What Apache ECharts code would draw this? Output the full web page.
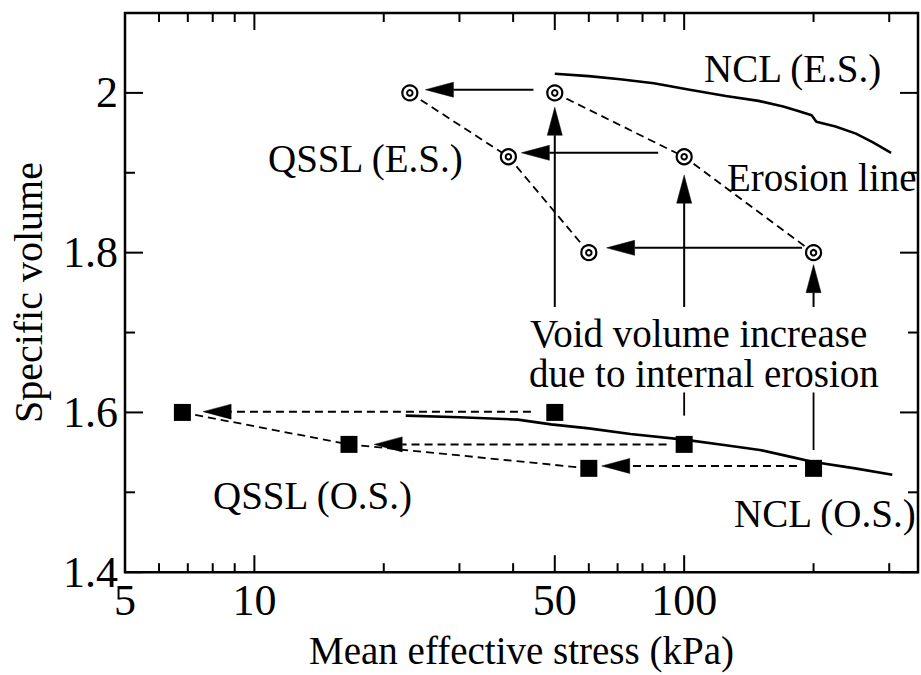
<!DOCTYPE html>
<html>
<head>
<meta charset="utf-8">
<script src="https://cdn.jsdelivr.net/npm/echarts@6/dist/echarts.min.js"></script>
<style>
html,body{margin:0;padding:0;background:#fff;}
#chart{width:921px;height:675px;}
</style>
</head>
<body>
<div id="chart"></div>
<script>
// ---------- axis ranges & ticks ----------
const xMin = 5, xMax = 350;
const yMin = 1.4, yMax = 2.1;
const xMajorTicks = [5, 10, 50, 100];
const xTickLabels = ['5', '10', '50', '100'];
const xMinorTicks = [6, 7, 8, 9, 20, 30, 40, 60, 70, 80, 90, 200, 300];
const yMajorTicks = [1.4, 1.6, 1.8, 2.0];
const yTickLabels = ['1.4', '1.6', '1.8', '2'];
const yMinorTicks = [1.5, 1.7, 1.9];

// ---------- E.S. (eroded soil) ----------
const esStartX = [50, 100, 200];
const esStartY = [2.00, 1.92, 1.80];
const esQsslX = [23, 39, 60];
const esQsslY = [2.00, 1.92, 1.80];
const nclEsX = [50, 60, 71, 85, 103, 125, 149, 170, 185, 198, 203, 225, 251, 275, 303];
const nclEsY = [2.024, 2.021, 2.017, 2.012, 2.004, 1.996, 1.990, 1.983, 1.977, 1.972, 1.964, 1.958, 1.949, 1.938, 1.925];

// ---------- O.S. (original soil) ----------
const osStartX = [50, 100, 200];
const osStartY = [1.60, 1.56, 1.53];
const osQsslX = [6.8, 16.6, 60];
const osQsslY = [1.60, 1.56, 1.53];
const nclOsX = [22.5, 30, 41, 49, 60, 75, 100, 125, 150, 175, 200, 250, 305];
const nclOsY = [1.596, 1.594, 1.591, 1.585, 1.580, 1.573, 1.566, 1.559, 1.553, 1.545, 1.538, 1.530, 1.522];

// ---------- arrows ----------
const esArrowFromX = [44.6, 87, 188];
const esArrowToX = [25, 41.8, 66];
const esArrowY = [2.004, 1.925, 1.806];
const osArrowFromX = [44, 91, 183];
const osArrowToX = [7.6, 19, 64.3];
const osArrowY = [1.601, 1.560, 1.533];
const riseX = [50, 100, 200];
const riseFromY = [1.732, 1.732, 1.732];
const riseToY = [1.982, 1.897, 1.785];
const stemX = [100, 200];
const stemFromY = [1.596, 1.553];
const stemToY = [1.625, 1.625];

// ---------- build ----------
const FONT = 'Liberation Serif';
const zip = (a, b) => a.map((v, i) => [v, b[i]]);

const arrowRows = [];
esArrowFromX.forEach((v, i) => arrowRows.push([v, esArrowY[i], esArrowToX[i], esArrowY[i], 1, 0]));
osArrowFromX.forEach((v, i) => arrowRows.push([v, osArrowY[i], osArrowToX[i], osArrowY[i], 1, 1]));
riseX.forEach((v, i) => arrowRows.push([v, riseFromY[i], v, riseToY[i], 1, 0]));
stemX.forEach((v, i) => arrowRows.push([v, stemFromY[i], v, stemToY[i], 0, 0]));

function arrowItem(params, api) {
  const p1 = api.coord([api.value(0), api.value(1)]);
  const p2 = api.coord([api.value(2), api.value(3)]);
  const hasHead = api.value(4) === 1;
  const dashed = api.value(5) === 1;
  const dx = p2[0] - p1[0], dy = p2[1] - p1[1];
  const L = Math.hypot(dx, dy) || 1;
  const ux = dx / L, uy = dy / L;
  const headLen = 28, headHalf = 7.5;
  const end = hasHead ? [p2[0] - ux * headLen, p2[1] - uy * headLen] : p2;
  const children = [{
    type: 'line',
    shape: { x1: p1[0], y1: p1[1], x2: end[0], y2: end[1] },
    style: { stroke: '#000', lineWidth: hasHead ? 2 : 1.8, lineDash: dashed ? [8, 5] : null, fill: null }
  }];
  if (hasHead) {
    children.push({
      type: 'polygon',
      shape: { points: [p2, [end[0] - uy * headHalf, end[1] + ux * headHalf], [end[0] + uy * headHalf, end[1] - ux * headHalf]] },
      style: { fill: '#000', stroke: '#000', lineWidth: 0.5 }
    });
  }
  return { type: 'group', children };
}

const xTickRows = xMajorTicks.map(v => [v, yMin, 1]).concat(xMinorTicks.map(v => [v, yMin, 0]));
const yTickRows = yMajorTicks.map(v => [xMin, v, 1]).concat(yMinorTicks.map(v => [xMin, v, 0]));

function xTickItem(params, api) {
  const x = api.value(0);
  const len = api.value(2) === 1 ? 17 : 9;
  const b = api.coord([x, yMin]);
  const t = api.coord([x, yMax]);
  const st = { stroke: '#000', lineWidth: 2 };
  return { type: 'group', children: [
    { type: 'line', shape: { x1: b[0], y1: b[1], x2: b[0], y2: b[1] - len }, style: st },
    { type: 'line', shape: { x1: t[0], y1: t[1], x2: t[0], y2: t[1] + len }, style: st }
  ]};
}
function yTickItem(params, api) {
  const y = api.value(1);
  const len = api.value(2) === 1 ? 18 : 10;
  const l = api.coord([xMin, y]);
  const r = api.coord([xMax, y]);
  const st = { stroke: '#000', lineWidth: 2 };
  return { type: 'group', children: [
    { type: 'line', shape: { x1: l[0], y1: l[1], x2: l[0] + len, y2: l[1] }, style: st },
    { type: 'line', shape: { x1: r[0], y1: r[1], x2: r[0] - len, y2: r[1] }, style: st }
  ]};
}
const xLabelRows = xMajorTicks.map((v, i) => [v, yMin, i]);
function xLabelItem(params, api) {
  const p = api.coord([api.value(0), yMin]);
  return {
    type: 'text',
    x: p[0], y: p[1] + 28.5,
    style: {
      text: xTickLabels[api.value(2)],
      fontSize: 44, fontFamily: FONT, fill: '#000',
      align: 'center', verticalAlign: 'middle',
      textAlign: 'center', textVerticalAlign: 'middle'
    }
  };
}

function txt(text, x, y) {
  return {
    type: 'text', x: x, y: y, z: 100,
    style: {
      text: text, fontSize: 39, fontFamily: FONT, fill: '#000',
      align: 'left', verticalAlign: 'middle',
      textAlign: 'left', textVerticalAlign: 'middle'
    }
  };
}

const option = {
  animation: false,
  backgroundColor: '#fff',
  grid: { left: 125, right: 3, top: 13, bottom: 96.5, show: true, borderColor: '#000', borderWidth: 2.5, backgroundColor: 'transparent' },
  xAxis: {
    type: 'log', logBase: 10, min: xMin, max: xMax,
    axisLine: { show: false }, axisTick: { show: false }, axisLabel: { show: false }, splitLine: { show: false },
    minorTick: { show: false }, minorSplitLine: { show: false },
    name: 'Mean effective stress (kPa)', nameLocation: 'middle', nameGap: 58.8,
    nameTextStyle: { fontSize: 39, fontFamily: FONT, color: '#000', lineHeight: 39 }
  },
  yAxis: {
    type: 'value', min: yMin, max: yMax, interval: 0.1,
    axisLine: { show: false }, axisTick: { show: false }, splitLine: { show: false },
    axisLabel: {
      margin: 7, fontSize: 44, fontFamily: FONT, color: '#000',
      formatter: function (v) {
        const i = yMajorTicks.findIndex(t => Math.abs(t - v) < 1e-6);
        return i >= 0 ? yTickLabels[i] : '';
      }
    },
    name: 'Specific volume', nameLocation: 'middle', nameRotate: 90, nameGap: 77,
    nameTextStyle: { fontSize: 40, fontFamily: FONT, color: '#000', lineHeight: 40 }
  },
  series: [
    { type: 'custom', name: 'xTicks', renderItem: xTickItem, data: xTickRows, encode: { x: 0, y: 1 }, silent: true, z: 5 },
    { type: 'custom', name: 'yTicks', renderItem: yTickItem, data: yTickRows, encode: { x: 0, y: 1 }, silent: true, z: 5 },
    { type: 'custom', name: 'xLabels', renderItem: xLabelItem, data: xLabelRows, encode: { x: 0, y: 1 }, silent: true, z: 5, clip: false },
    { type: 'line', name: 'NCL (E.S.)', data: zip(nclEsX, nclEsY), showSymbol: false, symbol: 'none', lineStyle: { color: '#000', width: 2.6 }, z: 3 },
    { type: 'line', name: 'NCL (O.S.)', data: zip(nclOsX, nclOsY), showSymbol: false, symbol: 'none', lineStyle: { color: '#000', width: 2.6 }, z: 3 },
    { type: 'line', name: 'Erosion line', data: zip(esStartX, esStartY), showSymbol: false, symbol: 'none', lineStyle: { color: '#000', width: 1.8, type: [8, 5] }, z: 3 },
    { type: 'line', name: 'QSSL (E.S.)', data: zip(esQsslX, esQsslY), showSymbol: false, symbol: 'none', lineStyle: { color: '#000', width: 1.8, type: [8, 5] }, z: 3 },
    { type: 'line', name: 'QSSL (O.S.)', data: zip(osQsslX, osQsslY), showSymbol: false, symbol: 'none', lineStyle: { color: '#000', width: 1.8, type: [8, 5] }, z: 3 },
    { type: 'custom', name: 'arrows', renderItem: arrowItem, data: arrowRows, encode: { x: [0, 2], y: [1, 3] }, silent: true, z: 4 },
    { type: 'scatter', name: 'E.S. outer', data: zip(esStartX, esStartY).concat(zip(esQsslX, esQsslY)), symbol: 'circle', symbolSize: 15,
      itemStyle: { color: '#fff', borderColor: '#000', borderWidth: 2.2, opacity: 1 }, z: 6, silent: true },
    { type: 'scatter', name: 'E.S. inner', data: zip(esStartX, esStartY).concat(zip(esQsslX, esQsslY)), symbol: 'circle', symbolSize: 5.5,
      itemStyle: { color: '#fff', borderColor: '#000', borderWidth: 2, opacity: 1 }, z: 7, silent: true },
    { type: 'scatter', name: 'O.S.', data: zip(osStartX, osStartY).concat(zip(osQsslX, osQsslY)), symbol: 'rect', symbolSize: 17,
      itemStyle: { color: '#000', opacity: 1 }, z: 6, silent: true }
  ],
  graphic: [
    txt('NCL (E.S.)', 704, 68),
    txt('QSSL (E.S.)', 268, 158),
    txt('Erosion line', 727, 177),
    txt('Void volume increase', 530, 333.5),
    txt('due to internal erosion', 529, 373),
    txt('QSSL (O.S.)', 213, 495),
    txt('NCL (O.S.)', 734, 513.5)
  ]
};

const chart = echarts.init(document.getElementById('chart'), null, { renderer: 'svg' });
chart.setOption(option);
</script>
</body>
</html>
